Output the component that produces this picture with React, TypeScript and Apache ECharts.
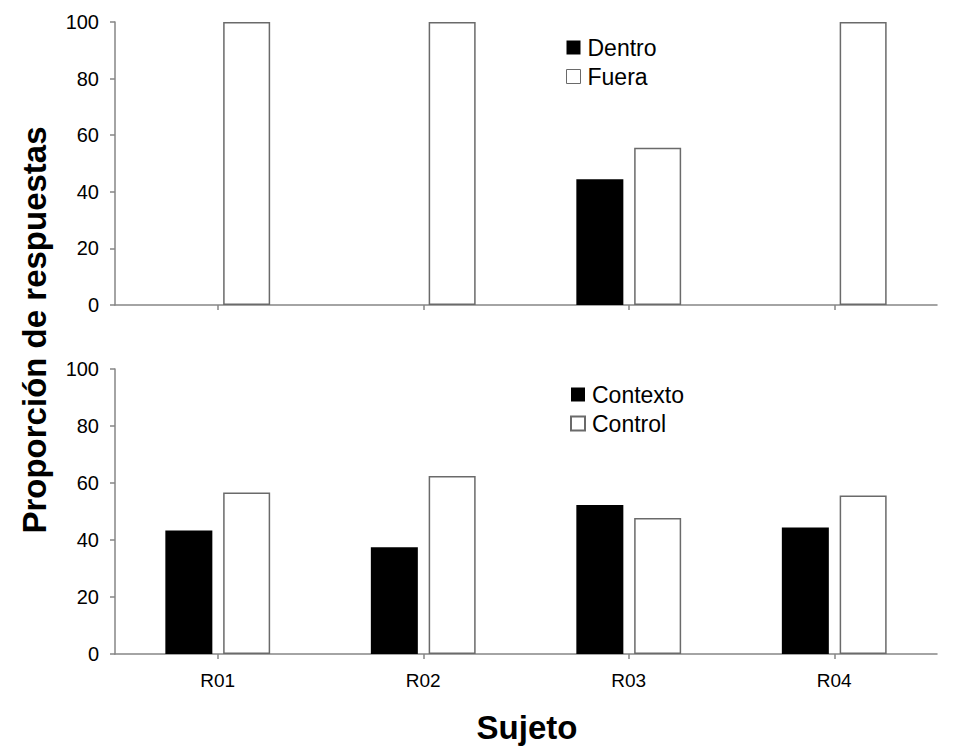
import React, { useEffect, useRef } from "react";
import * as echarts from "echarts";

const categories = ["R01", "R02", "R03", "R04"];
const dentro = [0, 0, 44.4, 0];
const fuera = [100, 100, 55.6, 100];
const contexto = [43.3, 37.5, 52.3, 44.4];
const control = [56.7, 62.5, 47.7, 55.6];
const yTicks = [0, 20, 40, 60, 80, 100];

const FONT = "'Liberation Sans', Arial, sans-serif";
const AXIS = "#868686";

export default function App() {
  const ref = useRef<HTMLDivElement>(null);
  useEffect(() => {
    const chart = echarts.init(ref.current!, null, { renderer: "svg" });
    const yAxisBase = (gi: number) => ({
      type: "value",
      gridIndex: gi,
      min: yTicks[0],
      max: yTicks[yTicks.length - 1],
      interval: 20,
      splitLine: { show: false },
      axisLine: { show: true, lineStyle: { color: AXIS, width: 1.5 } },
      axisTick: { show: true, length: 5, lineStyle: { color: AXIS, width: 1.5 } },
      axisLabel: { color: "#000", fontSize: 20, fontFamily: FONT, margin: 16 },
    });
    const xAxisBase = (gi: number, showLabel: boolean) => ({
      type: "category",
      gridIndex: gi,
      data: categories,
      axisLine: { show: true, lineStyle: { color: AXIS, width: 1.5 } },
      axisTick: { show: true, alignWithLabel: true, length: 5, lineStyle: { color: AXIS, width: 1.5 } },
      axisLabel: { show: showLabel, color: "#000", fontSize: 19, fontFamily: FONT, margin: 17 },
    });
    const blackStyle = { color: "#000", borderWidth: 0 };
    const whiteStyle = { color: "#fff", borderColor: "#6a6a6a", borderWidth: 1.5 };
    const legendText = { color: "#000", fontSize: 23, fontFamily: FONT, padding: [0, 0, 0, 2] };
    chart.setOption({
      animation: false,
      backgroundColor: "#fff",
      grid: [
        { left: 115, top: 22, width: 822, height: 283 },
        { left: 115, top: 369, width: 822, height: 285 },
      ],
      xAxis: [xAxisBase(0, false), xAxisBase(1, true)],
      yAxis: [yAxisBase(0), yAxisBase(1)],
      legend: [
        {
          data: ["Dentro", "Fuera"],
          orient: "vertical",
          left: 561,
          top: 31,
          itemWidth: 14,
          itemHeight: 14,
          itemGap: 6,
          icon: "rect",
          itemStyle: { borderWidth: 1 },
          textStyle: legendText,
        },
        {
          data: ["Contexto", "Control"],
          orient: "vertical",
          left: 565,
          top: 378,
          itemWidth: 14,
          itemHeight: 14,
          itemGap: 6,
          icon: "rect",
          textStyle: legendText,
        },
      ],
      series: [
        { name: "Dentro", type: "bar", xAxisIndex: 0, yAxisIndex: 0, data: dentro, barWidth: 47, barGap: "23%", itemStyle: blackStyle },
        { name: "Fuera", type: "bar", xAxisIndex: 0, yAxisIndex: 0, data: fuera, barWidth: 47, barGap: "23%", itemStyle: whiteStyle },
        { name: "Contexto", type: "bar", xAxisIndex: 1, yAxisIndex: 1, data: contexto, barWidth: 47, barGap: "23%", itemStyle: blackStyle },
        { name: "Control", type: "bar", xAxisIndex: 1, yAxisIndex: 1, data: control, barWidth: 47, barGap: "23%", itemStyle: whiteStyle },
      ],
      graphic: [
        {
          type: "text",
          x: 34,
          y: 330,
          rotation: Math.PI / 2,
          style: {
            text: "Proporción de respuestas",
            fontSize: 33,
            fontWeight: "bold",
            fontFamily: FONT,
            fill: "#000",
            align: "center",
            verticalAlign: "middle",
          },
        },
        {
          type: "text",
          x: 527,
          y: 727,
          style: {
            text: "Sujeto",
            fontSize: 33,
            fontWeight: "bold",
            fontFamily: FONT,
            fill: "#000",
            align: "center",
            verticalAlign: "middle",
          },
        },
      ],
    });
    return () => chart.dispose();
  }, []);
  return (
    <div
      ref={ref}
      style={{ position: "absolute", left: 0, top: 0, width: 966, height: 746 }}
    />
  );
}
